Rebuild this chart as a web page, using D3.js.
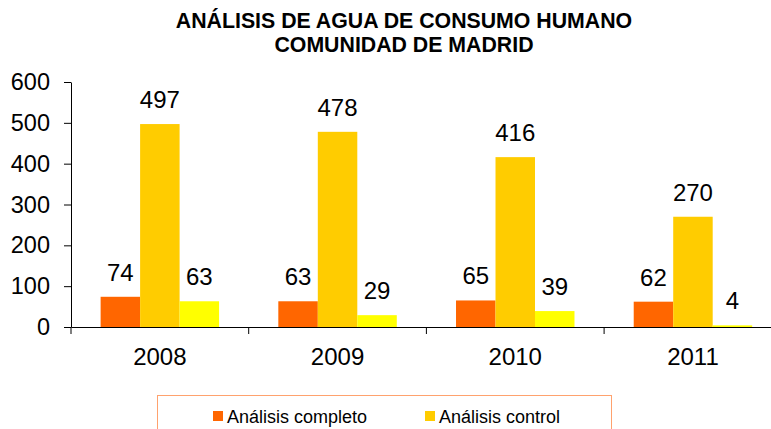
<!DOCTYPE html>
<html>
<head>
<meta charset="utf-8">
<script src="https://cdn.jsdelivr.net/npm/d3@7"></script>
<style>
  body { margin: 0; background: #fff; }
  svg { display: block; font-family: "Liberation Sans", Arial, sans-serif; }
</style>
</head>
<body>
<div id="chart"></div>
<script>
// data
var years = ["2008", "2009", "2010", "2011"];
var seriesNames = ["Análisis completo", "Análisis control", "Análisis de grifo"];
var completo = [74, 63, 65, 62];
var control = [497, 478, 416, 270];
var grifo = [63, 29, 39, 4];
var yTicks = [0, 100, 200, 300, 400, 500, 600];
var colors = ["#ff6600", "#ffcc00", "#ffff00"];

var W = 771, H = 429;
var plotLeft = 71, plotBottom = 327, plotTop = 82;
var step = 177.7;

var svg = d3.select("#chart").append("svg")
    .attr("width", W)
    .attr("height", H);

// title
var title = svg.append("text")
    .attr("text-anchor", "middle")
    .attr("font-weight", "bold")
    .attr("font-size", 21.3);
title.append("tspan").attr("x", 404).attr("y", 28).text("ANÁLISIS DE AGUA DE CONSUMO HUMANO");
title.append("tspan").attr("x", 404).attr("y", 52).text("COMUNIDAD DE MADRID");

var x = d3.scaleBand()
    .domain(years)
    .range([plotLeft, plotLeft + step * years.length]);

var inner = d3.scaleBand()
    .domain(d3.range(seriesNames.length))
    .range([0, x.bandwidth()])
    .paddingOuter(0.75)
    .paddingInner(0);

var y = d3.scaleLinear()
    .domain([0, 600])
    .range([plotBottom, plotTop]);

// y axis
var yAxis = svg.append("g")
    .attr("transform", "translate(" + plotLeft + ",0)")
    .call(d3.axisLeft(y).tickValues(yTicks).tickSize(7).tickPadding(14).tickSizeOuter(0));
yAxis.select(".domain").attr("stroke", "#000");
yAxis.selectAll("line").attr("stroke", "#000");
yAxis.selectAll("text")
    .attr("font-size", 23.5)
    .attr("fill", "#000")
    .attr("font-family", "Liberation Sans, Arial, sans-serif");

// bars
var rows = years.map(function(yr, i) {
    return { year: yr, values: [completo[i], control[i], grifo[i]] };
});

var groups = svg.selectAll(".grp")
    .data(rows)
    .enter().append("g")
    .attr("class", "grp")
    .attr("transform", function(d) { return "translate(" + x(d.year) + ",0)"; });

groups.selectAll("rect")
    .data(function(d) { return d.values; })
    .enter().append("rect")
    .attr("x", function(d, i) { return inner(i); })
    .attr("width", inner.bandwidth())
    .attr("y", function(d) { return y(d); })
    .attr("height", function(d) { return plotBottom - y(d); })
    .attr("fill", function(d, i) { return colors[i]; });

groups.selectAll(".lbl")
    .data(function(d) { return d.values; })
    .enter().append("text")
    .attr("class", "lbl")
    .attr("text-anchor", "middle")
    .attr("font-size", 24)
    .attr("x", function(d, i) { return inner(i) + inner.bandwidth() / 2; })
    .attr("y", function(d) { return y(d) - 16; })
    .text(function(d) { return d; });

// x axis
var xAxis = svg.append("g")
    .attr("transform", "translate(0," + plotBottom + ")")
    .call(d3.axisBottom(x).tickSize(0).tickPadding(21).tickSizeOuter(0));
xAxis.select(".domain").attr("stroke", "#000");
xAxis.selectAll("text")
    .attr("font-size", 24)
    .attr("fill", "#000")
    .attr("font-family", "Liberation Sans, Arial, sans-serif");

svg.append("g").selectAll("line")
    .data(years)
    .enter().append("line")
    .attr("x1", function(d) { return x(d); })
    .attr("x2", function(d) { return x(d); })
    .attr("y1", plotBottom)
    .attr("y2", plotBottom + 7)
    .attr("stroke", "#000");

// legend (box runs off the bottom of the picture, only first row visible)
svg.append("rect")
    .attr("x", 157.5)
    .attr("y", 395.5)
    .attr("width", 454)
    .attr("height", 60)
    .attr("fill", "none")
    .attr("stroke", "#ffa26e")
    .attr("stroke-width", 1);

var legendPos = [[213, 416], [425, 416]];
var leg = svg.selectAll(".leg")
    .data(seriesNames.slice(0, 2))
    .enter().append("g")
    .attr("class", "leg")
    .attr("transform", function(d, i) { return "translate(" + legendPos[i][0] + "," + legendPos[i][1] + ")"; });
leg.append("rect")
    .attr("x", 0)
    .attr("y", -5)
    .attr("width", 10)
    .attr("height", 10)
    .attr("fill", function(d, i) { return colors[i]; });
leg.append("text")
    .attr("x", 14)
    .attr("y", 6.5)
    .attr("font-size", 18)
    .text(function(d) { return d; });
</script>
</body>
</html>
